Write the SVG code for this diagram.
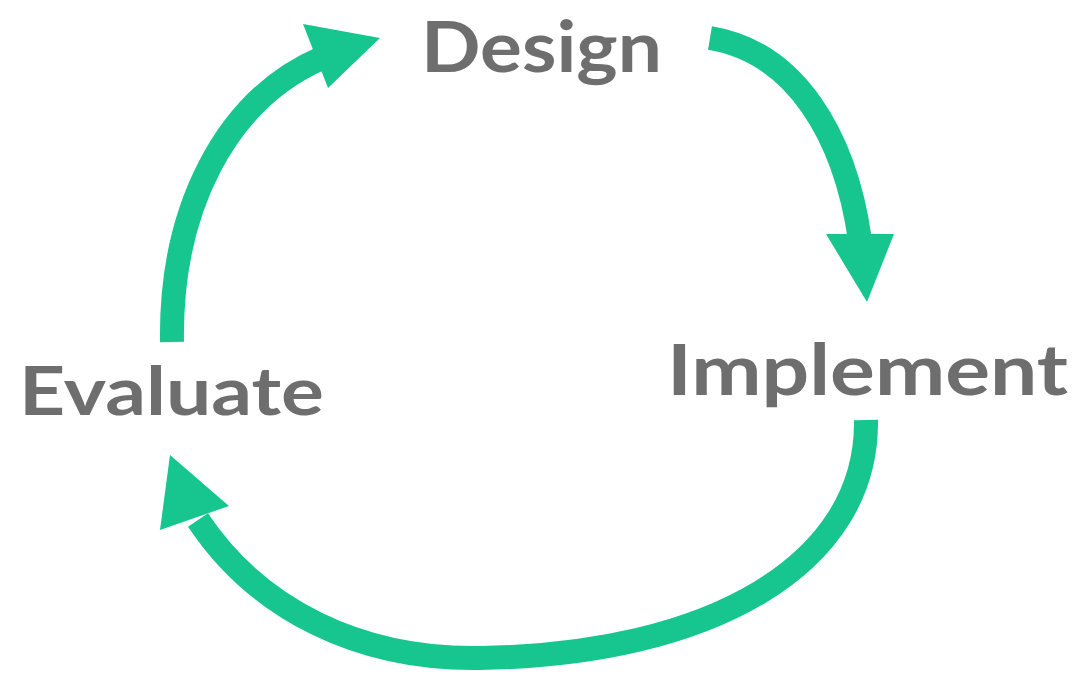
<svg xmlns="http://www.w3.org/2000/svg" width="1079" height="675" viewBox="0 0 1079 675">
<style>
.lbl{font-family:"Lato","Liberation Sans",sans-serif;font-weight:bold;fill:#6e6e6e}
.arc{fill:none;stroke:#17c68f;stroke-width:24}
.head{fill:#17c68f}
</style>
<rect width="1079" height="675" fill="#ffffff"/>
<g id="connectors">
<path class="arc" d="M172,342 C170,210 225,100 322,58"/>
<polygon class="head" points="380,38 303,24 328,88"/>
<path class="arc" d="M710,38 C795,52 845,135 860,240"/>
<polygon class="head" points="867,302 826,234 894,234"/>
<path class="arc" d="M866,420 C868,565 710,655 480,658 C360,660 258,610 198,520"/>
<polygon class="head" points="170,455 160,530 229,506"/>
</g>
<g id="node-design"><text class="lbl" x="421" y="72" font-size="71" textLength="241" lengthAdjust="spacingAndGlyphs">Design</text></g>
<g id="node-implement"><text class="lbl" x="667" y="395" font-size="70" textLength="401" lengthAdjust="spacingAndGlyphs">Implement</text></g>
<g id="node-evaluate"><text class="lbl" x="19" y="415" font-size="67" textLength="305" lengthAdjust="spacingAndGlyphs">Evaluate</text></g>
</svg>
